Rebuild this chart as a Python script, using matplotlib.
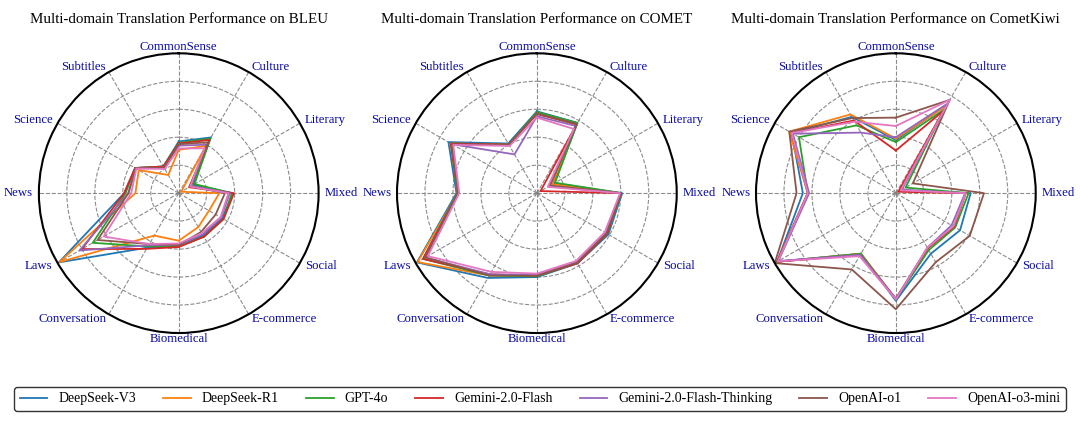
import matplotlib
matplotlib.use("Agg")
import matplotlib.pyplot as plt
import numpy as np

plt.rcParams['font.family'] = 'serif'
plt.rcParams['font.serif'] = ['Liberation Serif', 'DejaVu Serif']

# domains, clockwise from the top
domains = ['CommonSense', 'Culture', 'Literary', 'Mixed', 'Social', 'E-commerce',
           'Biomedical', 'Conversation', 'Laws', 'News', 'Science', 'Subtitles']
models = ['DeepSeek-V3', 'DeepSeek-R1', 'GPT-4o', 'Gemini-2.0-Flash',
          'Gemini-2.0-Flash-Thinking', 'OpenAI-o1', 'OpenAI-o3-mini']
colors = ['#1f77b4', '#ff7f0e', '#2ca02c', '#d62728', '#9467bd', '#8c564b', '#e377c2']

# scores scaled to the outer ring (one row per model)
bleu = [
    [0.37, 0.46, 0.12, 0.385, 0.36, 0.35, 0.38, 0.45, 0.99, 0.39, 0.36, 0.22],
    [0.31, 0.39, 0.02, 0.29, 0.25, 0.28, 0.34, 0.35, 0.985, 0.31, 0.33, 0.15],
    [0.36, 0.45, 0.13, 0.38, 0.37, 0.36, 0.38, 0.44, 0.71, 0.38, 0.36, 0.22],
    [0.355, 0.44, 0.085, 0.395, 0.37, 0.36, 0.385, 0.46, 0.80, 0.39, 0.36, 0.22],
    [0.34, 0.40, 0.10, 0.365, 0.35, 0.34, 0.37, 0.43, 0.82, 0.36, 0.355, 0.21],
    [0.35, 0.42, 0.10, 0.33, 0.305, 0.32, 0.37, 0.42, 0.67, 0.36, 0.355, 0.21],
    [0.32, 0.37, 0.095, 0.355, 0.345, 0.33, 0.36, 0.42, 0.62, 0.34, 0.35, 0.20],
]
comet = [
    [0.585, 0.58, 0.14, 0.61, 0.59, 0.58, 0.60, 0.70, 0.99, 0.575, 0.73, 0.41],
    [0.57, 0.565, 0.13, 0.60, 0.57, 0.565, 0.59, 0.68, 0.985, 0.565, 0.71, 0.40],
    [0.58, 0.58, 0.15, 0.605, 0.58, 0.575, 0.595, 0.68, 0.94, 0.57, 0.71, 0.40],
    [0.565, 0.57, 0.03, 0.60, 0.58, 0.58, 0.59, 0.67, 0.94, 0.565, 0.71, 0.40],
    [0.55, 0.555, 0.10, 0.60, 0.57, 0.57, 0.585, 0.67, 0.92, 0.565, 0.70, 0.32],
    [0.57, 0.57, 0.11, 0.605, 0.575, 0.575, 0.59, 0.68, 0.92, 0.565, 0.70, 0.40],
    [0.54, 0.53, 0.09, 0.595, 0.56, 0.56, 0.575, 0.65, 0.90, 0.555, 0.69, 0.39],
]
kiwi = [
    [0.38, 0.73, 0.04, 0.535, 0.53, 0.50, 0.77, 0.50, 0.98, 0.665, 0.86, 0.63],
    [0.39, 0.72, 0.03, 0.50, 0.48, 0.455, 0.755, 0.50, 0.98, 0.63, 0.88, 0.65],
    [0.365, 0.69, 0.08, 0.52, 0.49, 0.47, 0.76, 0.50, 0.98, 0.63, 0.80, 0.56],
    [0.305, 0.68, 0.02, 0.50, 0.48, 0.455, 0.755, 0.51, 0.98, 0.63, 0.86, 0.60],
    [0.40, 0.74, 0.05, 0.495, 0.46, 0.45, 0.755, 0.51, 0.97, 0.62, 0.85, 0.50],
    [0.54, 0.77, 0.14, 0.63, 0.61, 0.57, 0.83, 0.63, 1.0, 0.71, 0.88, 0.62],
    [0.48, 0.77, 0.04, 0.50, 0.475, 0.45, 0.76, 0.52, 0.975, 0.63, 0.86, 0.59],
]
metrics = ['BLEU', 'COMET', 'CometKiwi']

fig = plt.figure(figsize=(10.8, 4.4), dpi=100)
angles = np.linspace(0, 2 * np.pi, len(domains), endpoint=False)
lefts = [0.036, 0.3676, 0.700]

for left, metric, scores in zip(lefts, metrics, [bleu, comet, kiwi]):
    ax = fig.add_axes([left, 0.243, 0.259, 0.636], projection='polar')
    ax.set_theta_offset(np.pi / 2)
    ax.set_theta_direction(-1)

    for vals, name, c in zip(scores, models, colors):
        v = list(vals) + [vals[0]]
        a = list(angles) + [angles[0]]
        ax.plot(a, v, color=c, linewidth=1.3, label=name)

    ax.set_ylim(0, 1)
    ax.set_yticks([0.2, 0.4, 0.6, 0.8])
    ax.set_yticklabels([])
    ax.set_xticks(angles)
    ax.set_xticklabels([])
    ax.grid(True, color='gray', linestyle='--', linewidth=0.8, alpha=0.9)
    ax.spines['polar'].set_linewidth(1.5)
    ax.spines['polar'].set_color('black')

    # domain labels just outside the ring
    for ang, name in zip(angles, domains):
        math_ang = np.pi / 2 - ang
        cx, sy = np.cos(math_ang), np.sin(math_ang)
        if cx > 0.1:
            ha = 'left'
        elif cx < -0.1:
            ha = 'right'
        else:
            ha = 'center'
        r = 1.04
        if sy > 0.9:
            va, r = 'bottom', 1.0
        elif sy < -0.9:
            va, r = 'top', 1.0
        else:
            va = 'center'
        ax.text(ang, r, name, ha=ha, va=va, fontsize=9.2, color='#0a0aa5')

    ax.set_title(f'Multi-domain Translation Performance on {metric}',
                 fontsize=10.8, pad=22)

handles, labels = ax.get_legend_handles_labels()
leg = fig.legend(handles, labels, loc='lower left', ncol=7, mode='expand',
                 bbox_to_anchor=(0.013, 0.066, 0.974, 0.055), fontsize=10,
                 frameon=True, fancybox=True, borderaxespad=0)
leg.get_frame().set_edgecolor('black')
leg.get_frame().set_linewidth(1.0)

plt.savefig('out.png', dpi=100)
